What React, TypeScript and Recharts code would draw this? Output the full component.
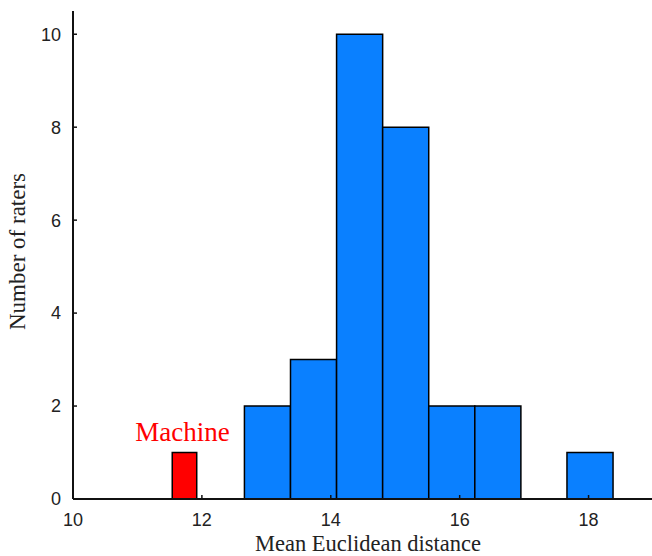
import { ComposedChart, ReferenceArea, XAxis, YAxis } from 'recharts';

// histogram of rater distances (bin start, count)
const binStarts = [12.66, 13.375, 14.09, 14.805, 15.52, 16.235, 16.95, 17.665];
const raterCounts = [2, 3, 10, 8, 2, 2, 0, 1];
const binWidth = 0.715;

const machineRange = [11.54, 11.92];
const machineCount = 1;

const xTicks = [10, 12, 14, 16, 18];
const yTicks = [0, 2, 4, 6, 8, 10];

const bins = binStarts.map((start, i) => ({ start, end: start + binWidth, mid: start + binWidth / 2, count: raterCounts[i] }));

const axisColor = '#111';
const tickFont = { fill: '#222', fontSize: 18, fontFamily: '"Liberation Sans", Arial, sans-serif' };
const titleFont = '"Liberation Serif", "Times New Roman", serif';

function XTitle({ viewBox }: any) {
  const cx = viewBox.x + viewBox.width / 2 + 5;
  const by = viewBox.y + viewBox.height - 5;
  return (
    <text x={cx} y={by} textAnchor="middle" fontFamily={titleFont} fontSize={22.5} fill="#222">
      Mean Euclidean distance
    </text>
  );
}

function YTitle({ viewBox }: any) {
  const cx = viewBox.x + 25;
  const cy = viewBox.y + viewBox.height / 2 - 3.5;
  return (
    <text x={cx} y={cy} transform={`rotate(-90 ${cx} ${cy})`} textAnchor="middle" fontFamily={titleFont} fontSize={23} fill="#222">
      Number of raters
    </text>
  );
}

export default function App() {
  return (
    <div style={{ position: 'absolute', left: 0, top: 0, width: 652, height: 556, overflow: 'hidden', background: '#fff' }}>
      <ComposedChart width={680} height={556} data={bins} margin={{ top: 11, right: 0, bottom: 0, left: 0 }}>
        <XAxis
          dataKey="mid"
          type="number"
          domain={[10, 19]}
          ticks={xTicks}
          allowDataOverflow
          height={57}
          tickSize={-4}
          tickMargin={18}
          tick={tickFont}
          axisLine={{ stroke: axisColor, strokeWidth: 2 }}
          tickLine={{ stroke: axisColor, strokeWidth: 1.5 }}
          label={<XTitle />}
        />
        <XAxis
          xAxisId="top"
          orientation="top"
          type="number"
          domain={[10, 19]}
          ticks={xTicks}
          allowDataOverflow
          height={0}
          tickSize={-4}
          tick={false}
          axisLine={{ stroke: axisColor, strokeWidth: 2 }}
          tickLine={{ stroke: axisColor, strokeWidth: 1.5 }}
        />
        <YAxis
          type="number"
          domain={[0, 10.5]}
          ticks={yTicks}
          allowDataOverflow
          width={73}
          tickSize={-4}
          tickMargin={16}
          tick={tickFont}
          axisLine={{ stroke: axisColor, strokeWidth: 2 }}
          tickLine={{ stroke: axisColor, strokeWidth: 1.5 }}
          label={<YTitle />}
        />
        <YAxis
          yAxisId="right"
          orientation="right"
          type="number"
          domain={[0, 10.5]}
          ticks={yTicks}
          allowDataOverflow
          width={27}
          tickSize={-4}
          tick={false}
          axisLine={{ stroke: axisColor, strokeWidth: 2 }}
          tickLine={{ stroke: axisColor, strokeWidth: 1.5 }}
        />
        {bins
          .filter((b) => b.count > 0)
          .map((b) => (
            <ReferenceArea
              key={b.start}
              x1={b.start}
              x2={b.end}
              y1={0}
              y2={b.count}
              fill="#0A80FF"
              fillOpacity={1}
              stroke="#000"
              strokeWidth={1.5}
              ifOverflow="visible"
            />
          ))}
        <ReferenceArea
          x1={machineRange[0]}
          x2={machineRange[1]}
          y1={0}
          y2={machineCount}
          fill="#FF0000"
          fillOpacity={1}
          stroke="#000"
          strokeWidth={1.5}
          ifOverflow="visible"
          label={{ value: 'Machine', position: 'top', offset: 12, dx: -2, fill: '#FF0000', fontSize: 27, fontFamily: titleFont }}
        />
      </ComposedChart>
    </div>
  );
}
